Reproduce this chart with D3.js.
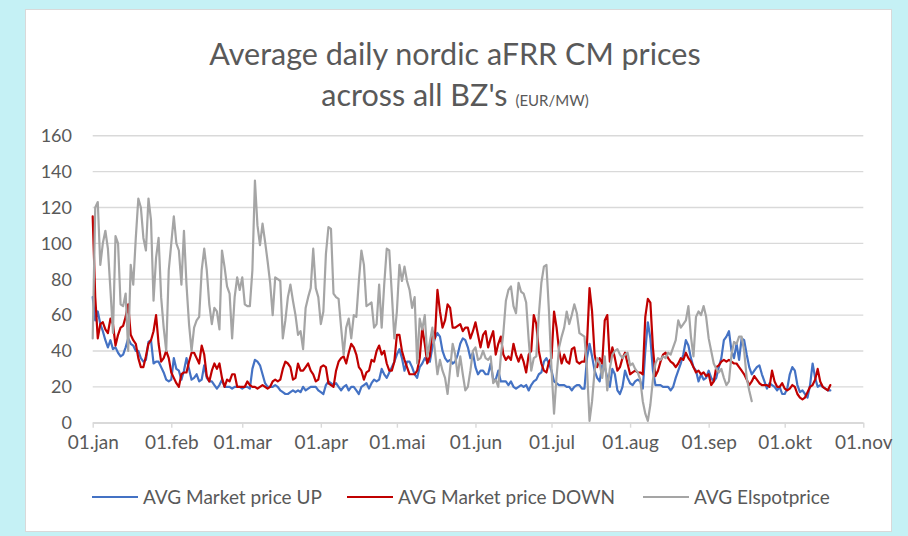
<!DOCTYPE html>
<html><head><meta charset="utf-8">
<script src="https://cdn.jsdelivr.net/npm/d3@7"></script>
<style>
html,body{margin:0;padding:0;background:#c5f1f5;}
svg{display:block;}
text{font-family:Lato,"Open Sans",sans-serif;fill:#595959;}
</style></head><body>
<svg id="chart" width="908" height="536"></svg>
<script>
// ---- data ----
const startDate = "2023-01-01"; // first daily observation
const monthLabels = ["01.jan","01.feb","01.mar","01.apr","01.mai","01.jun","01.jul","01.aug","01.sep","01.okt","01.nov"];
const yTickValues = [0,20,40,60,80,100,120,140,160];
const seriesNames = ["AVG Market price UP","AVG Market price DOWN","AVG Elspotprice"];

const upValues = [
70,57,62,55,51,46,42,46,41,42, 39,37,38,42,47,44,43,40,40,36,
34,35,45,46,33,34,34,31,28,24, 23,24,36,30,29,24,29,36,30,24,
25,27,23,24,32,25,23,23,21,19, 21,24,20,20,20,19,20,20,20,19,
20,20,19,30,35,34,32,27,22,20, 20,20,21,20,18,17,16,16,17,18,
17,18,17,20,18,19,20,20,20,18, 17,16,21,23,22,21,22,20,18,20,
21,18,20,20,18,16,20,21,22,19, 22,24,23,24,30,27,25,28,31,34,
38,41,36,29,34,34,31,27,25,31, 33,36,34,34,42,47,50,48,40,36,
34,35,33,34,38,44,47,46,42,36, 39,31,27,29,29,27,27,33,24,24,
29,23,23,23,21,23,20,19,20,21, 20,21,18,21,23,24,27,28,34,36,
33,29,23,22,21,21,21,20,20,18, 20,21,21,19,19,36,44,37,29,25,
23,32,31,25,20,30,27,18,16,20, 29,25,22,21,23,24,23,19,40,56,
47,29,21,21,21,20,20,20,18,20, 25,29,33,38,46,43,36,31,29,23,
27,24,25,29,25,23,25,31,36,46, 48,51,40,36,44,35,47,46,38,31,
27,29,31,32,27,23,19,22,21,20, 18,20,16,16,19,27,31,29,21,17,
18,16,14,21,33,25,20,21,20,19, 18,18];

const downValues = [
115,70,47,55,56,52,50,58,55,43, 49,53,54,59,66,49,46,44,36,31,
31,37,44,46,51,60,44,34,36,40, 36,28,25,22,20,27,28,28,34,39,
39,36,33,43,38,26,23,29,33,30, 33,25,20,24,23,27,27,20,20,20,
20,23,21,20,20,19,20,21,20,19, 20,23,24,23,24,30,34,33,31,24,
25,33,29,29,31,33,29,27,23,24, 31,32,31,22,21,20,29,34,36,37,
33,39,44,42,38,31,29,24,28,29, 35,34,40,43,38,40,33,29,29,34,
49,49,40,35,31,27,27,27,29,36, 53,44,33,37,51,47,74,62,53,57,
66,64,53,53,54,55,51,53,53,47, 51,56,49,42,49,51,42,47,51,38,
44,48,38,35,37,35,44,38,34,38, 34,28,38,40,60,55,40,33,29,28,
34,36,62,53,40,33,38,34,33,41, 42,34,33,34,34,44,75,62,38,31,
36,33,57,60,34,42,36,29,31,36, 39,33,27,28,29,28,28,27,59,69,
67,42,26,29,34,38,39,36,34,33, 31,33,36,35,39,36,34,31,28,29,
27,28,26,27,21,23,31,32,34,35, 34,35,34,33,33,31,29,27,24,21,
23,26,24,22,21,21,21,20,29,23, 20,20,22,19,18,19,21,20,16,14,
13,14,17,20,21,24,30,23,20,19, 18,21];

const spotValues = [
47,120,123,88,100,107,97,74,50,104, 100,66,65,72,40,88,77,103,125,120,
103,96,125,113,68,92,103,70,53,40, 85,100,115,100,96,77,107,77,55,40,
53,57,59,85,97,85,66,55,64,62, 52,96,87,76,72,47,70,81,74,81,
66,65,65,85,135,110,99,111,101,90, 78,60,81,80,79,47,57,70,77,68,
60,49,51,41,64,70,75,97,75,70, 55,62,94,109,108,72,70,69,53,38,
53,58,47,60,59,79,96,88,65,66, 67,53,55,77,53,77,97,96,72,47,
62,88,79,87,79,74,64,70,33,58, 52,60,37,45,53,40,27,35,29,25,
16,30,44,38,26,37,27,18,20,29, 40,42,35,36,40,36,35,37,22,24,
20,37,50,68,74,76,65,61,78,73, 72,67,46,29,36,37,60,78,87,88,
62,30,5,26,42,48,53,62,55,60, 66,61,50,49,48,30,1,12,29,36,
33,25,37,18,30,38,40,41,38,36, 38,39,32,33,30,28,24,12,5,1,
10,24,33,36,35,37,36,39,38,42, 46,57,53,55,57,65,48,37,59,62,
60,65,59,47,40,33,30,28,30,25, 21,23,38,45,44,48,48,40,25,18,
12];

const seriesColors = ["#4472C4","#C00000","#A5A5A5"];

// ---- chart ----
const svg = d3.select("#chart");
const start = d3.timeParse("%Y-%m-%d")(startDate);
const toPoints = arr => arr.map((v,i)=>({date:d3.timeDay.offset(start,i), value:v}));
const series = [upValues, downValues, spotValues].map((arr,i)=>({name:seriesNames[i], color:seriesColors[i], points:toPoints(arr)}));

// chart frame
svg.append("rect").attr("x",25.5).attr("y",9.5).attr("width",866).attr("height",522)
  .attr("fill","#ffffff").attr("stroke","#d9d9d9").attr("stroke-width",1);

const x = d3.scaleTime().domain([start, d3.timeMonth.offset(start,10)]).range([92.7,863.3]);
const y = d3.scaleLinear().domain([0,160]).range([422.7,135.7]);

// gridlines
svg.append("g").selectAll("line").data(yTickValues).join("line")
  .attr("x1",x.range()[0]).attr("x2",x.range()[1])
  .attr("y1",d=>y(d)).attr("y2",d=>y(d))
  .attr("stroke","#d9d9d9").attr("stroke-width",1.4);

// y labels
svg.append("g").selectAll("text").data(yTickValues).join("text")
  .attr("x",72).attr("y",d=>y(d)).attr("dy","0.35em")
  .attr("text-anchor","end").attr("font-size",18).text(d=>d);

// x axis ticks + labels
const monthDates = d3.timeMonth.range(start, d3.timeDay.offset(d3.timeMonth.offset(start,10),1));
const xAxis = d3.axisBottom(x).tickValues(monthDates).tickSize(5).tickSizeOuter(0)
  .tickFormat((d,i)=>monthLabels[i]);
const gx = svg.append("g").attr("transform","translate(0,"+y(0)+")").call(xAxis);
gx.select(".domain").attr("stroke","#d9d9d9").attr("stroke-width",1.4);
gx.selectAll(".tick line").attr("stroke","#d9d9d9").attr("stroke-width",1.4);
gx.selectAll(".tick text").attr("font-size",19).attr("y",13).attr("dy","0.71em")
  .attr("fill","#595959").attr("font-family","Lato, 'Open Sans', sans-serif");

// lines
const line = d3.line().x(d=>x(d.date)).y(d=>y(d.value));
svg.append("g").selectAll("path").data(series).join("path")
  .attr("d",d=>line(d.points)).attr("fill","none")
  .attr("stroke",d=>d.color).attr("stroke-width",2.2)
  .attr("stroke-linejoin","round").attr("stroke-linecap","round");

// title
svg.append("text").attr("x",455).attr("y",65).attr("text-anchor","middle")
  .attr("font-size",30.5).text("Average daily nordic aFRR CM prices");
const t2 = svg.append("text").attr("x",455).attr("y",106).attr("text-anchor","middle")
  .attr("font-size",30.5);
t2.append("tspan").text("across all BZ's ");
t2.append("tspan").attr("font-size",15).text("(EUR/MW)");

// legend
const legendX = [92,347,643];
const lg = svg.append("g").selectAll("g").data(series).join("g")
  .attr("transform",(d,i)=>"translate("+legendX[i]+",497)");
lg.append("line").attr("x1",0).attr("x2",46).attr("y1",0).attr("y2",0)
  .attr("stroke",d=>d.color).attr("stroke-width",2.2);
lg.append("text").attr("x",51).attr("y",0).attr("dy","0.35em").attr("font-size",19).text(d=>d.name);
</script>
</body></html>
